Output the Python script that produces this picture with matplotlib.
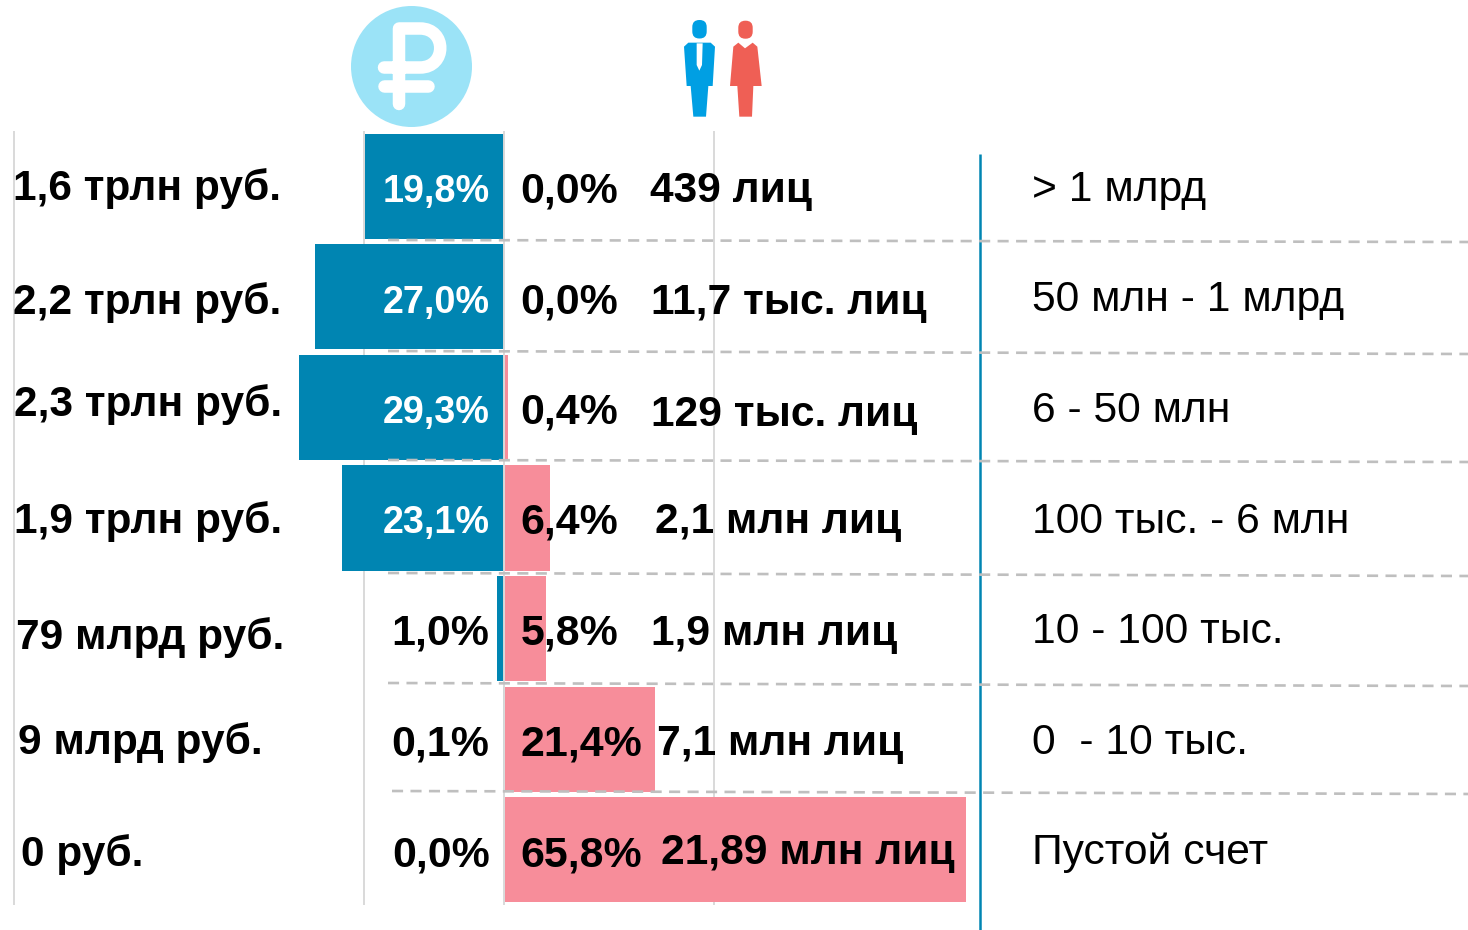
import matplotlib
matplotlib.use("Agg")
import matplotlib.pyplot as plt
from matplotlib.patches import Circle, Polygon, PathPatch, FancyBboxPatch
from matplotlib.path import Path

plt.rcParams['font.family'] = ['Liberation Sans', 'DejaVu Sans']

W, H = 1468, 930
BLUE = '#0085B2'
PINK = '#F78D9A'
GRID = '#D9D9D9'
DASH = '#BFBFBF'

# data, top row to bottom
totals = ['1,6 трлн руб.', '2,2 трлн руб.', '2,3 трлн руб.', '1,9 трлн руб.',
          '79 млрд руб.', '9 млрд руб.', '0 руб.']
money_share = [19.8, 27.0, 29.3, 23.1, 1.0, 0.1, 0.0]
people_share = [0.0, 0.0, 0.4, 6.4, 5.8, 21.4, 65.8]
people = ['439 лиц', '11,7 тыс. лиц', '129 тыс. лиц', '2,1 млн лиц',
          '1,9 млн лиц', '7,1 млн лиц', '21,89 млн лиц']
brackets = ['> 1 млрд', '50 млн - 1 млрд', '6 - 50 млн', '100 тыс. - 6 млн',
            '10 - 100 тыс.', '0  - 10 тыс.', 'Пустой счет']
rows = range(len(totals))

# hand placement of the labels, in pixels
total_x = [13, 13, 14, 14, 16, 18, 21]
total_y = [200, 314, 416, 533, 649, 754, 866]
share_y = [202, 313, 423, 533, 644, 755, 866]
people_x = [650, 651, 651, 655, 651, 657, 661]
people_y = [202, 314, 426, 533, 645, 755, 864]
bracket_y = [201, 311, 422, 533, 643, 754, 864]
dash_lines = [(388, 240, 242), (388, 351, 354), (388, 460, 462),
              (388, 573, 576), (388, 683, 686), (392, 791, 794)]


def px_axes(fig, x0, x1, y0, y1, z):
    ax = fig.add_axes([x0 / W, 1 - y1 / H, (x1 - x0) / W, (y1 - y0) / H], zorder=z)
    ax.axis('off')
    return ax


def fmt(v):
    return f'{v:.1f}%'.replace('.', ',')


fig = plt.figure(figsize=(W / 100, H / 100), dpi=100, facecolor='white')

# grid sits under the bars
back = px_axes(fig, 0, W, 0, H, 1)
back.set_xlim(0, W)
back.set_ylim(H, 0)
for x in [14, 364, 714]:
    back.plot([x, x], [131, 905], color=GRID, lw=1.4, solid_capstyle='butt')

# 7 px per percent on both sides
ax_money = px_axes(fig, 294, 504, 131, 905, 2)
ax_money.barh(list(rows), money_share, height=0.95, color=BLUE)
ax_money.set_xlim(30, 0)
ax_money.set_ylim(6.5, -0.5)

ax_people = px_axes(fig, 505, 967, 131, 905, 2)
ax_people.barh(list(rows), people_share, height=0.95, color=PINK)
ax_people.set_xlim(0, 66)
ax_people.set_ylim(6.5, -0.5)

top = px_axes(fig, 0, W, 0, H, 3)
top.set_xlim(0, W)
top.set_ylim(H, 0)

# the centre line runs over the bar edges
top.plot([504, 504], [131, 905], color=GRID, lw=1.4, solid_capstyle='butt')
top.plot([980, 980], [154, 930], color=BLUE, lw=1.8, solid_capstyle='butt')
for x0, y0, y1 in dash_lines:
    top.plot([x0, W], [y0, y1], color=DASH, lw=1.9, dashes=(4.2, 2.8))

for i in rows:
    top.text(total_x[i], total_y[i], totals[i], fontsize=30.5, fontweight='bold', color='black')
    c = 'white' if money_share[i] > 10 else 'black'
    fs = 27.2 if money_share[i] > 10 else 30.9
    top.text(489.5, share_y[i], fmt(money_share[i]), fontsize=fs, fontweight='bold', color=c, ha='right')
    top.text(520.5, share_y[i], fmt(people_share[i]), fontsize=30.9, fontweight='bold', color='black')
    top.text(people_x[i], people_y[i], people[i], fontsize=30.6, fontweight='bold', color='black')
    top.text(1032, bracket_y[i], brackets[i], fontsize=30.7, color='black')

# rouble badge
top.add_patch(Circle((411.5, 66.5), 60.5, color='#9BE3F7', lw=0))
verts = [(399, 104), (399, 28.5), (420, 28.5), (447, 28.5), (447, 67.5), (420, 67.5), (384, 67.5)]
codes = [Path.MOVETO, Path.LINETO, Path.LINETO, Path.CURVE4, Path.CURVE4, Path.CURVE4, Path.LINETO]
top.add_patch(PathPatch(Path(verts, codes), fill=False, ec='white', lw=9, capstyle='round', joinstyle='round'))
top.plot([384, 428], [86, 86], color='white', lw=9, solid_capstyle='round')

# man
man_blue = '#009FE3'
top.add_patch(FancyBboxPatch((692.3, 20), 14.4, 18.5, boxstyle='round,pad=0,rounding_size=7', color=man_blue, lw=0))
man = [(1032, 140), (1045, 128), (1112, 128), (1125, 140), (1118, 258), (1105, 258),
       (1098, 350), (1060, 350), (1052, 258), (1040, 258)]
top.add_patch(Polygon([(340 + x / 3, y / 3) for x, y in man], color=man_blue, lw=0))
tie = [(1070, 130), (1088, 130), (1086, 195), (1078, 212), (1070, 195)]
top.add_patch(Polygon([(340 + x / 3, y / 3) for x, y in tie], color='white', lw=0))

# woman
woman_red = '#EF5F55'
top.add_patch(FancyBboxPatch((738.3, 20.7), 14.4, 18, boxstyle='round,pad=0,rounding_size=7', color=woman_red, lw=0))
woman = [(1170, 258), (1180, 140), (1195, 128), (1215, 145), (1238, 128), (1252, 140),
         (1265, 258), (1240, 258), (1236, 350), (1198, 350), (1192, 258)]
top.add_patch(Polygon([(340 + x / 3, y / 3) for x, y in woman], color=woman_red, lw=0))

fig.savefig('out.png', dpi=100)
